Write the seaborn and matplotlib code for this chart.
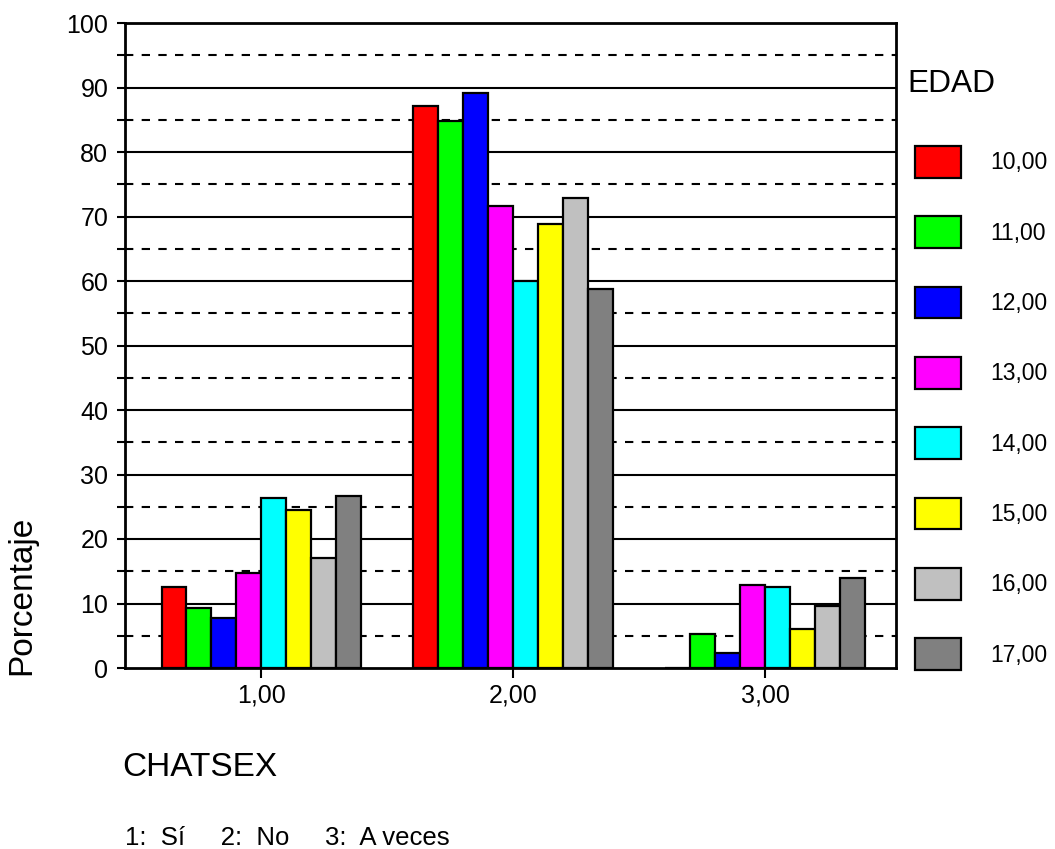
import numpy as np
import pandas as pd
import matplotlib
matplotlib.use("Agg")
import matplotlib.pyplot as plt
import seaborn as sns

# values (percent within each CHATSEX answer)
chatsex = ["1,00", "2,00", "3,00"]
edad = ["10,00", "11,00", "12,00", "13,00", "14,00", "15,00", "16,00", "17,00"]
pct_1 = [12.6, 9.3, 7.8, 14.7, 26.4, 24.5, 17.0, 26.6]
pct_2 = [87.1, 84.8, 89.2, 71.7, 60.0, 68.8, 72.8, 58.7]
pct_3 = [0.0, 5.2, 2.4, 12.9, 12.6, 6.0, 9.6, 14.0]
colors = ["#ff0000", "#00ff00", "#0000ff", "#ff00ff", "#00ffff", "#ffff00", "#c0c0c0", "#808080"]

rows = []
for cat, vals in zip(chatsex, [pct_1, pct_2, pct_3]):
    for e, v in zip(edad, vals):
        rows.append({"CHATSEX": cat, "EDAD": e, "Porcentaje": v})
df = pd.DataFrame(rows)

sns.set_style("white")
plt.rcParams['font.family'] = ['Liberation Sans', 'DejaVu Sans']
plt.rcParams['text.color'] = 'black'
plt.rcParams['xtick.color'] = 'black'
plt.rcParams['ytick.color'] = 'black'

fig = plt.figure(figsize=(10.55, 8.49), dpi=100)
ax = fig.add_axes([125 / 1055, 1 - 668 / 849, 771 / 1055, 645 / 849])

sns.barplot(data=df, x="CHATSEX", y="Porcentaje", hue="EDAD", palette=colors,
            width=0.79, edgecolor="black", linewidth=1.6, saturation=1, ax=ax, zorder=3)

# gridlines: solid every 10, dashed every 5
for y in range(10, 101, 10):
    ax.axhline(y, color="black", lw=1.5, zorder=1)
for y in range(5, 100, 10):
    ax.axhline(y, color="black", lw=1.5, ls=(0, (4, 4)), zorder=1)

ax.set_ylim(0, 100)
ax.set_xlim(-0.54, 2.52)
ax.set_yticks(range(0, 101, 10))
ax.set_yticks(range(5, 100, 10), minor=True)
ax.tick_params(axis="y", which="both", direction="out", length=6, width=1.5, labelsize=18, left=True, pad=6)
ax.tick_params(axis="x", direction="out", length=7, width=1.5, labelsize=18, bottom=True, pad=4)
for s in ax.spines.values():
    s.set_linewidth(2)
    s.set_color("black")
ax.set_xlabel("")
ax.set_ylabel("")

handles, labels = ax.get_legend_handles_labels()
leg = ax.legend(handles, labels, loc="upper left",
                bbox_to_anchor=(915 / 1055, 1 - 146 / 849), bbox_transform=fig.transFigure,
                frameon=False, fontsize=16.5,
                handlelength=2.0, handleheight=1.76, labelspacing=1.68, handletextpad=1.27,
                borderaxespad=0, borderpad=0)

fig.text(907 / 1055, 1 - 84 / 849, "EDAD", fontsize=22.8, va="center", ha="left")
fig.text(22 / 1055, 1 - 595 / 849, "Porcentaje", rotation=90, fontsize=24, va="center", ha="center")
fig.text(122 / 1055, 1 - 768 / 849, "CHATSEX", fontsize=24, va="center", ha="left")
fig.text(125 / 1055, 1 - 838 / 849, "1:  Sí     2:  No     3:  A veces", fontsize=18.5, va="center", ha="left")

fig.savefig("out.png", dpi=100)
